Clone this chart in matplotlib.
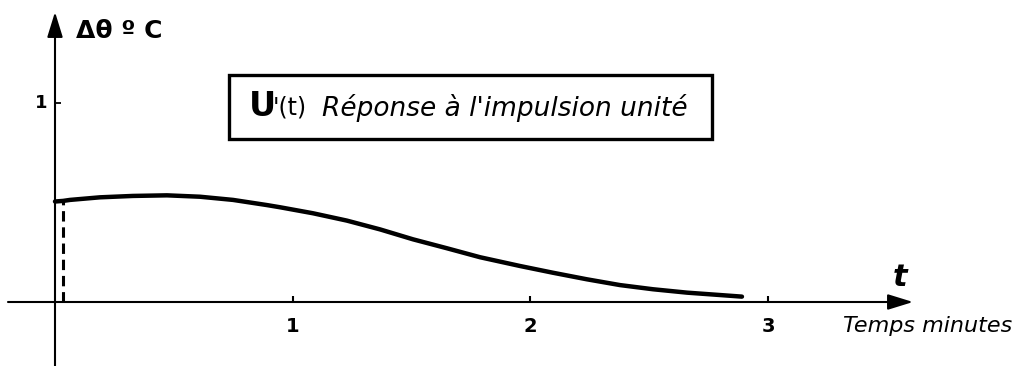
import matplotlib
matplotlib.use("Agg")
import matplotlib.pyplot as plt
from matplotlib.patches import Rectangle

# unit impulse response (time in minutes, temperature rise in deg C)
t_min = [0.0, 0.034, 0.063, 0.189, 0.328, 0.471, 0.610, 0.749, 0.892, 0.947,
         1.085, 1.228, 1.367, 1.506, 1.649, 1.788, 1.956, 2.095, 2.238, 2.377,
         2.516, 2.659, 2.798, 2.890]
u_resp = [0.505, 0.508, 0.513, 0.526, 0.533, 0.536, 0.529, 0.513, 0.487, 0.476,
          0.446, 0.409, 0.365, 0.315, 0.270, 0.225, 0.181, 0.147, 0.114, 0.085,
          0.064, 0.047, 0.035, 0.027]

x_ticks = [1, 2, 3]
x_tick_labels = ["1", "2", "3"]
y_ticks = [1]
y_tick_labels = ["1"]
t_start = t_min[1]

W, H = 1017, 366
X0, Y0 = 55, 302           # pixel position of the origin
SX, SY = 237.7, 199.0      # pixels per unit

fig = plt.figure(figsize=(W / 100, H / 100), dpi=100)
ax = fig.add_axes([0, 0, 1, 1])
ax.set_xlim(-X0 / SX, (W - X0) / SX)
ax.set_ylim(-(H - Y0) / SY, Y0 / SY)
ax.axis("off")


def fx(px):
    return px / W


def fy(py):
    return 1 - py / H


arrow = dict(arrowstyle="-|>,head_length=0.55,head_width=0.17", color="black",
             lw=1.5, shrinkA=0, shrinkB=0, mutation_scale=28)

# axes with arrow heads
ax.annotate("", xy=(0, (Y0 - 12) / SY), xytext=(0, -(H - Y0) / SY), arrowprops=arrow)
ax.annotate("", xy=((913 - X0) / SX, 0), xytext=((8 - X0) / SX, 0), arrowprops=arrow)

# tick marks
for xt in x_ticks:
    ax.plot([xt, xt], [0, 6 / SY], color="black", lw=1.5, solid_capstyle="butt")
for yt in y_ticks:
    ax.plot([0, 6 / SX], [yt, yt], color="black", lw=1.3, solid_capstyle="butt")

# tick labels
for xt, lab in zip(x_ticks, x_tick_labels):
    ax.text(xt, -25 / SY, lab, ha="center", va="center", fontsize=14,
            fontweight="bold")
for yt, lab in zip(y_ticks, y_tick_labels):
    ax.text(-14 / SX, yt, lab, ha="center", va="center", fontsize=13,
            fontweight="bold")

# response curve and the dashed step at the start
ax.plot(t_min, u_resp, color="black", lw=3.2, solid_capstyle="round",
        solid_joinstyle="round")
ax.plot([t_start, t_start], [0, u_resp[1]], color="black", lw=2.2,
        dashes=(3.4, 1.9))

# axis titles
ax.text(fx(76), fy(31), "Δθ º C", transform=ax.transAxes, ha="left",
        va="center", fontsize=18, fontweight="bold")
ax.text(fx(900), fy(278), "t", transform=ax.transAxes, ha="center",
        va="center", fontsize=22, fontweight="bold", fontstyle="italic")
ax.text(fx(1012), fy(326), "Temps minutes", transform=ax.transAxes,
        ha="right", va="center", fontsize=16, fontstyle="italic")

# boxed caption
ax.add_patch(Rectangle((fx(229), fy(139)), (712 - 229) / W, (139 - 75) / H,
                       transform=ax.transAxes, fill=False, lw=2.4,
                       edgecolor="black"))
ax.text(fx(249), fy(107), "U", transform=ax.transAxes, ha="left", va="center",
        fontsize=24, fontweight="bold")
ax.text(fx(273), fy(108), "'(t)", transform=ax.transAxes, ha="left",
        va="center", fontsize=17)
ax.text(fx(505), fy(108), "Réponse à l'impulsion unité",
        transform=ax.transAxes, ha="center", va="center",
        fontsize=19, fontstyle="italic")

fig.savefig("out.png", dpi=100)
